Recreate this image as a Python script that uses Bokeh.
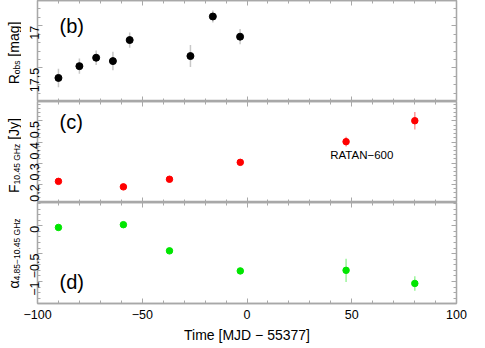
import numpy as np
from bokeh.plotting import figure
from bokeh.models import Range1d, LinearAxis, FixedTicker, Label, CustomLabelingPolicy
from bokeh.layouts import column, row
from bokeh.embed import file_html
from bokeh.resources import INLINE
from bokeh.core.properties import value

# ---------------- data ----------------
opt_t = [-90.0, -80.0, -72.0, -64.0, -56.0, -27.0, -16.3, -3.3]
opt_mag = [17.62, 17.48, 17.38, 17.42, 17.17, 17.36, 16.89, 17.13]
opt_err = [0.11, 0.09, 0.085, 0.11, 0.09, 0.13, 0.07, 0.09]

rad_t = [-90.0, -59.0, -37.0, -3.2, 47.3, 80.1]
rad_flux = [0.214, 0.188, 0.224, 0.304, 0.402, 0.501]
rad_err = [0.005, 0.005, 0.005, 0.007, 0.023, 0.041]

alp_t = [-90.0, -59.0, -37.0, -3.2, 47.3, 80.1]
alp_val = [-0.03, 0.02, -0.45, -0.81, -0.80, -1.035]
alp_err = [0.02, 0.02, 0.025, 0.03, 0.21, 0.13]

x_ticks = [-100, -50, 0, 50, 100]
x_tick_labels = ["\u2212100", "\u221250", "0", "50", "100"]
b_ticks = [17.0, 17.5]
b_tick_labels = ["17", "17.5"]
c_ticks = [0.2, 0.3, 0.4, 0.5]
c_tick_labels = ["0.2", "0.3", "0.4", "0.5"]
d_ticks = [0.0, -0.5, -1.0]
d_tick_labels = ["0", "\u22120.5", "\u22121"]

panel_tags = ["(b)", "(c)", "(d)"]
x_title = "Time [MJD \u2212 55377]"
# (text, is_subscript, leading gap in spaces)
b_title = [("R", False, 0), ("obs", True, 0), ("[mag]", False, 1)]
c_title = [("F", False, 0), ("10.45 GHz", True, 0), ("[Jy]", False, 1)]
d_title = [("\u03b1", False, 0), ("4.85\u221210.45 GHz", True, 0)]

# ---------------- styling ----------------
FONT = "Liberation Sans"
GRAY = "#a8a8a8"
FW = 419
TITLE_W = 21      # width of the strip that holds the rotated y titles
BASE_X = 13.8     # baseline of the rotated title inside the strip
MAIN_SIZE = 14
SUB_SIZE = 8.5

xr = Range1d(-100, 100)

# approximate Arial / Liberation Sans advance widths (per em)
W = {' ': .278, '[': .278, ']': .278, 'R': .722, 'o': .556, 'b': .556, 's': .5,
     'm': .833, 'a': .556, 'g': .556, 'F': .611, '1': .556, '0': .556, '.': .278,
     '4': .556, '5': .556, '8': .556, 'G': .778, 'H': .722, 'z': .5, 'J': .5,
     'y': .5, '\u03b1': .578, '\u2212': .584}


def tw(s, size):
    return sum(W.get(ch, .556) for ch in s) * size


def fmt_overrides(ticks, labels):
    return {float(t): l for t, l in zip(ticks, labels)}


def no_labels():
    return CustomLabelingPolicy(code="const a = [...indices]; for (const i of a) indices.unset(i);")


def add_axes(p, ticks, labels, minor, show_x=False):
    xt = FixedTicker(ticks=x_ticks, minor_ticks=list(np.arange(-100, 101, 10)))
    yt = FixedTicker(ticks=ticks, minor_ticks=minor)
    common = dict(axis_line_color=GRAY, major_tick_line_color=GRAY,
                  minor_tick_line_color=GRAY, major_tick_in=5, major_tick_out=0,
                  minor_tick_in=3, minor_tick_out=0, axis_line_width=1.3,
                  major_tick_line_width=1, minor_tick_line_width=1)
    hidden = dict(major_label_text_font_size="0px", major_label_standoff=0,
                  major_label_policy=no_labels())
    left = LinearAxis(ticker=yt, major_label_overrides=fmt_overrides(ticks, labels),
                      major_label_orientation=np.pi / 2, major_label_standoff=3,
                      major_label_text_font=FONT, major_label_text_font_size="12.5px",
                      major_label_text_color="black", **common)
    right = LinearAxis(ticker=yt, **hidden, **common)
    top = LinearAxis(ticker=xt, **hidden, **common)
    if show_x:
        bottom = LinearAxis(ticker=xt, major_label_overrides=fmt_overrides(x_ticks, x_tick_labels),
                            major_label_standoff=6, major_label_text_font=FONT,
                            major_label_text_font_size="12.5px", major_label_text_color="black",
                            axis_label=x_title, axis_label_text_font=FONT,
                            axis_label_text_font_size="14px", axis_label_text_font_style="normal",
                            axis_label_standoff=5, axis_label_text_color="black", **common)
    else:
        bottom = LinearAxis(ticker=xt, **hidden, **common)
    p.add_layout(left, "left")
    p.add_layout(right, "right")
    p.add_layout(top, "above")
    p.add_layout(bottom, "below")


def make_fig(yr, fh):
    p = figure(frame_width=FW, frame_height=fh, x_range=xr, y_range=yr,
               toolbar_location=None, output_backend="svg",
               x_axis_location=None, y_axis_location=None,
               min_border_left=16, min_border_right=13, min_border_top=0, min_border_bottom=0)
    p.grid.visible = False
    p.outline_line_color = GRAY
    p.outline_line_width = 1.3
    p.background_fill_color = "white"
    p.border_fill_color = "white"
    return p


def title_strip(yr, fh, parts, shift_px):
    # a narrow figure, level with the panel, that holds its rotated y title
    s = figure(frame_width=TITLE_W, frame_height=fh, x_range=Range1d(0, TITLE_W),
               y_range=Range1d(yr.start, yr.end), toolbar_location=None, output_backend="svg",
               x_axis_location=None, y_axis_location=None,
               min_border_left=0, min_border_right=0, min_border_top=0, min_border_bottom=0)
    s.grid.visible = False
    s.outline_line_color = None
    s.background_fill_color = "white"
    s.border_fill_color = "white"
    sizes = [SUB_SIZE if sub else MAIN_SIZE for _, sub, _ in parts]
    total = sum(tw(t, z) + gap * W[' '] * z for (t, _, gap), z in zip(parts, sizes))
    pos = fh / 2.0 - shift_px - total / 2.0
    for (t, sub, gap), z in zip(parts, sizes):
        pos += gap * W[' '] * z
        yv = yr.start + pos / fh * (yr.end - yr.start)
        s.text(x=[BASE_X + (2.6 if sub else 0.0)], y=[yv], text=[t], angle=np.pi / 2,
               text_align="left", text_baseline="alphabetic", text_font=value(FONT),
               text_font_size=value("%.1fpx" % z), text_color="black")
        pos += tw(t, z)
    return s


def tag(p, text, yv):
    p.add_layout(Label(x=-89.5, y=yv, text=text, text_align="left", text_baseline="middle",
                       text_font=FONT, text_font_size="20px", text_color="black"))


FH = 101

# ---------------- panel (b) ----------------
yb = Range1d(17.9, 16.7)
pb = make_fig(yb, FH)
add_axes(pb, b_ticks, b_tick_labels, list(np.round(np.arange(16.7, 17.95, 0.1), 2)))
pb.segment(x0=opt_t, x1=opt_t, y0=[m - e for m, e in zip(opt_mag, opt_err)],
           y1=[m + e for m, e in zip(opt_mag, opt_err)], line_color="#c8c8c8", line_width=1.5)
pb.scatter(opt_t, opt_mag, size=7, color="black")
tag(pb, panel_tags[0], 17.0)
sb = title_strip(yb, FH, b_title, 2)

# ---------------- panel (c) ----------------
yc = Range1d(0.114, 0.592)
pc = make_fig(yc, FH)
add_axes(pc, c_ticks, c_tick_labels, list(np.round(np.arange(0.12, 0.59, 0.02), 3)))
pc.segment(x0=rad_t, x1=rad_t, y0=[m - e for m, e in zip(rad_flux, rad_err)],
           y1=[m + e for m, e in zip(rad_flux, rad_err)], line_color="#ff9a9a", line_width=1.5)
pc.scatter(rad_t, rad_flux, size=6.5, color="#ff0000")
tag(pc, panel_tags[1], 0.495)
pc.add_layout(Label(x=54.8, y=0.34, text="RATAN\u2212600", text_align="center",
                    text_baseline="middle", text_font=FONT, text_font_size="11.5px",
                    text_color="black"))
sc = title_strip(yc, FH, c_title, 3.5)

# ---------------- panel (d) ----------------
yd = Range1d(-1.395, 0.418)
pd_ = make_fig(yd, FH)
add_axes(pd_, d_ticks, d_tick_labels, list(np.round(np.arange(-1.3, 0.45, 0.1), 2)), show_x=True)
pd_.segment(x0=alp_t, x1=alp_t, y0=[m - e for m, e in zip(alp_val, alp_err)],
            y1=[m + e for m, e in zip(alp_val, alp_err)], line_color="#9cf59c", line_width=1.5)
pd_.scatter(alp_t, alp_val, size=6.5, color="#00e600")
tag(pd_, panel_tags[2], -1.01)
sd = title_strip(yd, FH, d_title, 0.5)

layout = column(row(sb, pb, spacing=0), row(sc, pc, spacing=0), row(sd, pd_, spacing=0),
                spacing=0)
open("out.html", "w").write(file_html(layout, INLINE))
